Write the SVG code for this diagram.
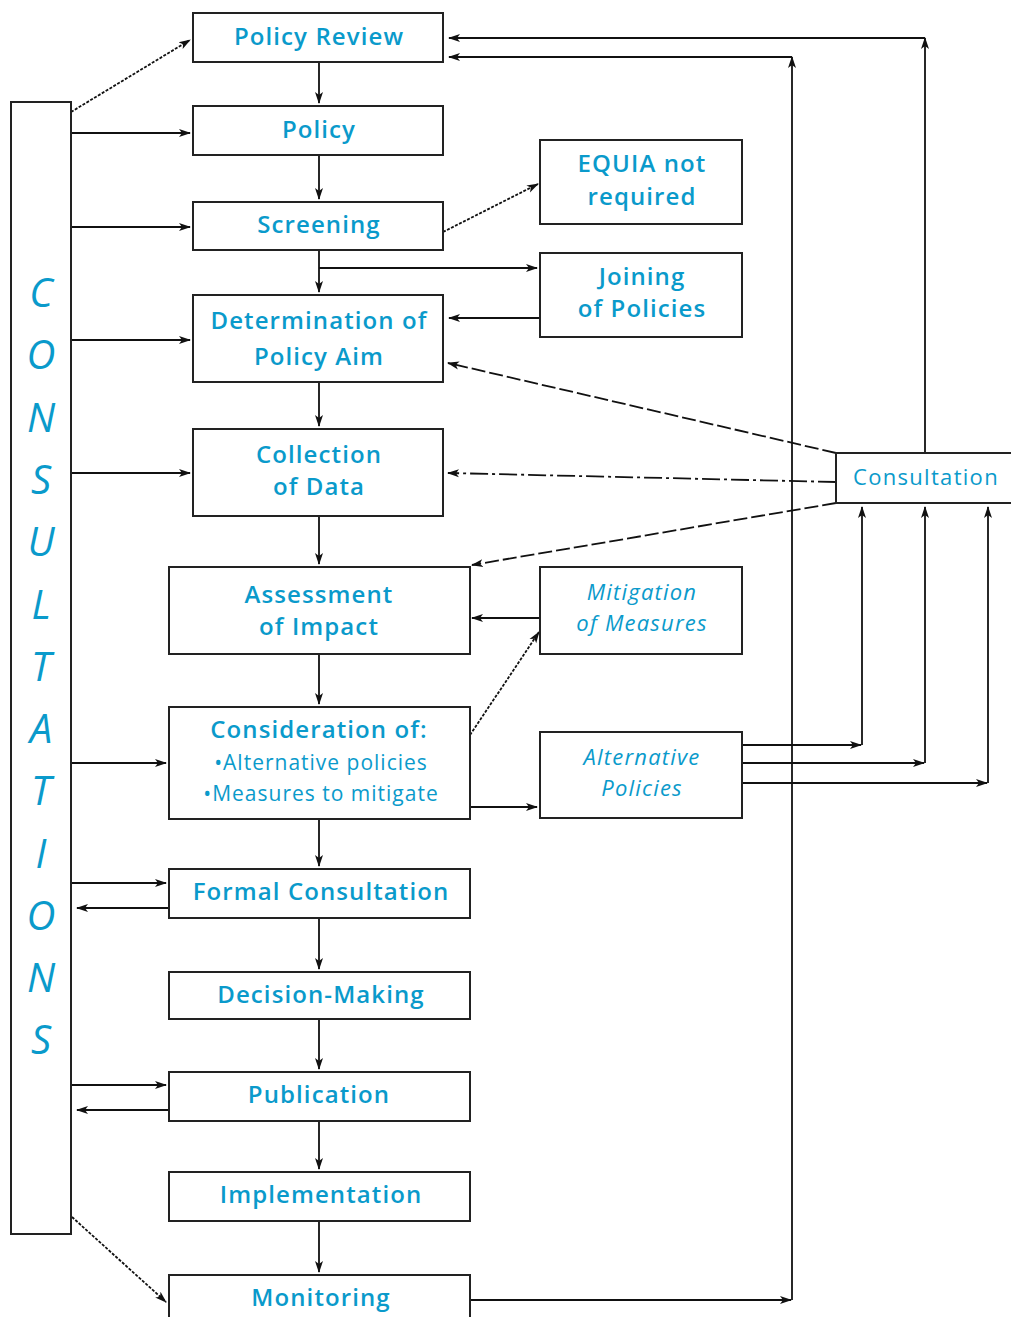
<svg xmlns="http://www.w3.org/2000/svg" width="1011" height="1317" viewBox="0 0 1011 1317">
<style>
.box{fill:#fff;stroke:#222;stroke-width:2}
.t{font-family:"Open Sans","Liberation Sans",sans-serif;font-weight:600;font-size:24px;letter-spacing:1.1px;fill:#0a9acb;text-anchor:middle}
.s{font-family:"Open Sans","Liberation Sans",sans-serif;font-weight:400;font-size:21px;letter-spacing:1px;fill:#0a9acb;text-anchor:middle}
.i{font-family:"Open Sans","Liberation Sans",sans-serif;font-style:italic;font-weight:400;font-size:22px;letter-spacing:1.2px;fill:#0a9acb;text-anchor:middle}
.big{font-family:"Open Sans","Liberation Sans",sans-serif;font-style:italic;font-weight:400;font-size:40px;fill:#0a9acb;text-anchor:middle}
.c{font-family:"Open Sans","Liberation Sans",sans-serif;font-weight:400;font-size:22px;letter-spacing:1.3px;fill:#0a9acb;text-anchor:middle}
.ln{fill:none;stroke:#111;stroke-width:1.8}
.dot{stroke-dasharray:3 1.5}
.dash{stroke-dasharray:14 4}
.dd{stroke-dasharray:18 4 3 4}
</style>
<defs>
<marker id="a" viewBox="0 0 12 10" refX="11" refY="5" markerWidth="12" markerHeight="10" markerUnits="userSpaceOnUse" orient="auto">
<path d="M0,1 L12,5 L0,9 L3,5 Z" fill="#111"/>
</marker>
</defs>

<g id="connectors">
<path class="ln dot" d="M71,112 L190,40" marker-end="url(#a)"/>
<path class="ln" d="M71,133 L190,133" marker-end="url(#a)"/>
<path class="ln" d="M71,227 L190,227" marker-end="url(#a)"/>
<path class="ln" d="M71,340 L190,340" marker-end="url(#a)"/>
<path class="ln" d="M71,473 L190,473" marker-end="url(#a)"/>
<path class="ln" d="M71,763 L166,763" marker-end="url(#a)"/>
<path class="ln" d="M71,883 L166,883" marker-end="url(#a)"/>
<path class="ln" d="M169,908 L77,908" marker-end="url(#a)"/>
<path class="ln" d="M71,1085 L166,1085" marker-end="url(#a)"/>
<path class="ln" d="M169,1110 L77,1110" marker-end="url(#a)"/>
<path class="ln dot" d="M72,1217 L166,1302" marker-end="url(#a)"/>
<path class="ln" d="M319,62 L319,103" marker-end="url(#a)"/>
<path class="ln" d="M319,155 L319,199" marker-end="url(#a)"/>
<path class="ln" d="M319,250 L319,292" marker-end="url(#a)"/>
<path class="ln" d="M319,382 L319,426" marker-end="url(#a)"/>
<path class="ln" d="M319,516 L319,564" marker-end="url(#a)"/>
<path class="ln" d="M319,654 L319,704" marker-end="url(#a)"/>
<path class="ln" d="M319,819 L319,866" marker-end="url(#a)"/>
<path class="ln" d="M319,918 L319,969" marker-end="url(#a)"/>
<path class="ln" d="M319,1019 L319,1069" marker-end="url(#a)"/>
<path class="ln" d="M319,1121 L319,1169" marker-end="url(#a)"/>
<path class="ln" d="M319,1221 L319,1272" marker-end="url(#a)"/>
<path class="ln" d="M319,268 L537,268" marker-end="url(#a)"/>
<path class="ln" d="M540,318 L449,318" marker-end="url(#a)"/>
<path class="ln dot" d="M443,232 L538,184" marker-end="url(#a)"/>
<path class="ln dash" d="M836,453 L448,363" marker-end="url(#a)"/>
<path class="ln dd" d="M836,482 L448,473" marker-end="url(#a)"/>
<path class="ln dash" d="M836,503 L472,565" marker-end="url(#a)"/>
<path class="ln" d="M540,618 L472,618" marker-end="url(#a)"/>
<path class="ln dot" d="M470,735 L539,632" marker-end="url(#a)"/>
<path class="ln" d="M470,807 L537,807" marker-end="url(#a)"/>
<path class="ln" d="M742,745 L861,745" marker-end="url(#a)"/>
<path class="ln" d="M862,745 L862,507" marker-end="url(#a)"/>
<path class="ln" d="M742,763 L924,763" marker-end="url(#a)"/>
<path class="ln" d="M925,763 L925,507" marker-end="url(#a)"/>
<path class="ln" d="M742,783 L987,783" marker-end="url(#a)"/>
<path class="ln" d="M988,783 L988,507" marker-end="url(#a)"/>
<path class="ln" d="M925,453 L925,38" marker-end="url(#a)"/>
<path class="ln" d="M925,38 L449,38" marker-end="url(#a)"/>
<path class="ln" d="M470,1300 L791,1300" marker-end="url(#a)"/>
<path class="ln" d="M792,1300 L792,57" marker-end="url(#a)"/>
<path class="ln" d="M792,57 L449,57" marker-end="url(#a)"/>
</g>

<g id="consultations">
<rect class="box" x="11" y="102" width="60" height="1132"/>
<text class="big" x="41" y="307">C</text>
<text class="big" x="41" y="369">O</text>
<text class="big" x="41" y="432">N</text>
<text class="big" x="41" y="494">S</text>
<text class="big" x="41" y="556">U</text>
<text class="big" x="41" y="619">L</text>
<text class="big" x="41" y="681">T</text>
<text class="big" x="41" y="743">A</text>
<text class="big" x="41" y="805">T</text>
<text class="big" x="41" y="868">I</text>
<text class="big" x="41" y="930">O</text>
<text class="big" x="41" y="992">N</text>
<text class="big" x="41" y="1054">S</text>
</g>

<g id="policy-review"><rect class="box" x="193" y="13" width="250" height="49"/><text class="t" x="319" y="45">Policy Review</text></g>
<g id="policy"><rect class="box" x="193" y="106" width="250" height="49"/><text class="t" x="319" y="138">Policy</text></g>
<g id="screening"><rect class="box" x="193" y="202" width="250" height="48"/><text class="t" x="319" y="233">Screening</text></g>
<g id="determination"><rect class="box" x="193" y="295" width="250" height="87"/><text class="t" x="319" y="329">Determination of</text><text class="t" x="319" y="365">Policy Aim</text></g>
<g id="collection"><rect class="box" x="193" y="429" width="250" height="87"/><text class="t" x="319" y="463">Collection</text><text class="t" x="319" y="495">of Data</text></g>
<g id="assessment"><rect class="box" x="169" y="567" width="301" height="87"/><text class="t" x="319" y="603">Assessment</text><text class="t" x="319" y="635">of Impact</text></g>
<g id="consideration"><rect class="box" x="169" y="707" width="301" height="112"/><text class="t" x="319" y="738">Consideration of:</text><text class="s" x="321" y="770">•Alternative policies</text><text class="s" x="321" y="801">•Measures to mitigate</text></g>
<g id="formal-consultation"><rect class="box" x="169" y="869" width="301" height="49"/><text class="t" x="321" y="900">Formal Consultation</text></g>
<g id="decision-making"><rect class="box" x="169" y="972" width="301" height="47"/><text class="t" x="321" y="1003">Decision-Making</text></g>
<g id="publication"><rect class="box" x="169" y="1072" width="301" height="49"/><text class="t" x="319" y="1103">Publication</text></g>
<g id="implementation"><rect class="box" x="169" y="1172" width="301" height="49"/><text class="t" x="321" y="1203">Implementation</text></g>
<g id="monitoring"><rect class="box" x="169" y="1275" width="301" height="50"/><text class="t" x="321" y="1306">Monitoring</text></g>
<g id="equia"><rect class="box" x="540" y="140" width="202" height="84"/><text class="t" x="642" y="172">EQUIA not</text><text class="t" x="642" y="205">required</text></g>
<g id="joining"><rect class="box" x="540" y="253" width="202" height="84"/><text class="t" x="642" y="285">Joining</text><text class="t" x="642" y="317">of Policies</text></g>
<g id="mitigation"><rect class="box" x="540" y="567" width="202" height="87"/><text class="i" x="642" y="600">Mitigation</text><text class="i" x="642" y="631">of Measures</text></g>
<g id="alternative"><rect class="box" x="540" y="732" width="202" height="86"/><text class="i" x="642" y="765">Alternative</text><text class="i" x="642" y="796">Policies</text></g>
<g id="consultation"><rect class="box" x="836" y="453" width="180" height="50"/><text class="c" x="926" y="485">Consultation</text></g>
</svg>
